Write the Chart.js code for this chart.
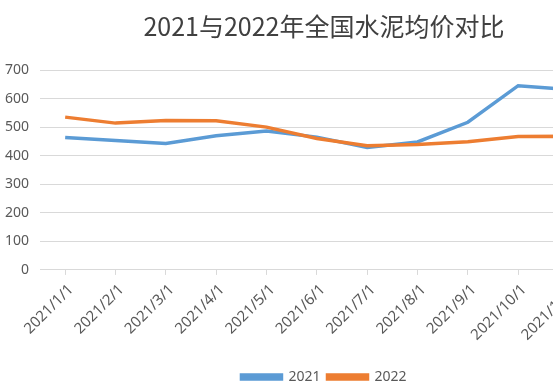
<!DOCTYPE html>
<html>
<head>
<meta charset="utf-8">
<script src="https://cdn.jsdelivr.net/npm/chart.js@4"></script>
<style>
html,body{margin:0;padding:0;background:#ffffff;overflow:hidden;width:553px;height:390px;}
canvas{display:block;}
</style>
</head>
<body>
<canvas id="c" width="652" height="390"></canvas>
<script>
const categories = ["2021/1/1","2021/2/1","2021/3/1","2021/4/1","2021/5/1","2021/6/1","2021/7/1","2021/8/1","2021/9/1","2021/10/1","2021/11/1","2021/12/1"];
const series2021 = [464, 453, 443, 470, 486, 465, 429, 448, 517, 645, 632, 600];
const series2022 = [535, 514, 523, 522, 500, 460, 435, 439, 449, 467, 468, 455];
const yTicks = [0, 100, 200, 300, 400, 500, 600, 700];
const titleText = "2021与2022年全国水泥均价对比";

const blue = "#5B9BD5", orange = "#ED7D31";
new Chart(document.getElementById("c"), {
  type: "line",
  data: {
    labels: categories,
    datasets: [
      {label: "2021", data: series2021, borderColor: blue, backgroundColor: blue, borderWidth: 3.5, pointRadius: 0, tension: 0, order: 2},
      {label: "2022", data: series2022, borderColor: orange, backgroundColor: orange, borderWidth: 3.5, pointRadius: 0, tension: 0, order: 1}
    ]
  },
  options: {
    responsive: false,
    animation: false,
    layout: {padding: {left: 4, right: 8, top: 0, bottom: -4}},
    plugins: {
      title: {display: true, text: titleText, color: "#404040",
        font: {family: "'Noto Sans CJK SC'", size: 25, weight: "normal"}, padding: {top: 11, bottom: 29}},
      legend: {position: "bottom", labels: {boxWidth: 40, boxHeight: 4, color: "#595959", padding: 7,
        font: {family: "'Noto Sans'", size: 14}, sort: (a, b) => a.datasetIndex - b.datasetIndex}},
      tooltip: {enabled: false}
    },
    scales: {
      x: {
        offset: true,
        grid: {drawOnChartArea: false, drawTicks: true, tickLength: 5, color: "#d9d9d9"},
        border: {color: "#d9d9d9"},
        ticks: {color: "#595959", minRotation: 45, maxRotation: 45, font: {family: "'Noto Sans'", size: 15}, padding: 6, labelOffset: 6},
        afterFit: (s) => { s.paddingLeft = 0; s.paddingRight = 0; s.height += 13; }
      },
      y: {
        min: 0, max: 700,
        afterBuildTicks: (axis) => { axis.ticks = yTicks.map(v => ({value: v})); },
        grid: {color: "#d9d9d9", drawTicks: false},
        border: {display: false},
        ticks: {color: "#595959", font: {family: "'Noto Sans'", size: 14}, padding: 11},
        afterFit: (s) => { s.width = 36; }
      }
    }
  }
});
</script>
</body>
</html>
